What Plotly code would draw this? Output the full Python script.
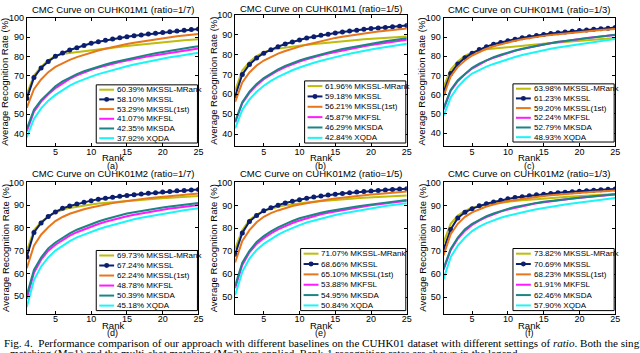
import plotly.graph_objects as go

W, H = 640, 353

ranks = list(range(1, 26))
series_names = ["MKSSL-MRank", "MKSSL", "MKSSL(1st)", "MKFSL", "MKSDA", "XQDA"]
series_colors = ["#BDBD0A", "#0C1F6E", "#E8761A", "#FF1AFF", "#1B8585", "#1AF5F5"]

titles = ["CMC Curve on CUHK01M1 (ratio=1/7)", "CMC Curve on CUHK01M1 (ratio=1/5)",
          "CMC Curve on CUHK01M1 (ratio=1/3)", "CMC Curve on CUHK01M2 (ratio=1/7)",
          "CMC Curve on CUHK01M2 (ratio=1/5)", "CMC Curve on CUHK01M2 (ratio=1/3)"]
panel_labels = ["(a)", "(b)", "(c)", "(d)", "(e)", "(f)"]

rank1_a = ["60.39", "58.10", "53.29", "41.07", "42.35", "37.92"]
rank1_b = ["61.96", "59.18", "56.21", "45.87", "46.29", "42.84"]
rank1_c = ["63.98", "61.23", "59.20", "52.24", "52.79", "48.93"]
rank1_d = ["69.73", "67.24", "62.24", "48.78", "50.39", "45.18"]
rank1_e = ["71.07", "68.66", "65.10", "53.88", "54.95", "50.84"]
rank1_f = ["73.82", "70.69", "68.23", "61.91", "62.46", "57.90"]

# (a) CUHK01M1 ratio=1/7
a_mrank = [60.39, 70.0, 74.5, 78.0, 80.2, 81.3, 81.8, 82.3, 82.7, 83.1, 83.5, 84.0, 84.5, 85.0, 85.4, 85.8, 86.2, 86.6, 87.0, 87.3, 87.6, 88.0, 88.3, 88.6, 88.9]
a_mkssl = [58.10, 69.0, 74.0, 77.3, 80.0, 81.8, 83.3, 84.5, 85.7, 86.8, 87.6, 88.3, 89.0, 89.6, 90.2, 90.7, 91.1, 91.6, 92.0, 92.4, 92.8, 93.2, 93.5, 93.9, 94.2]
a_first = [53.29, 63.0, 68.0, 71.8, 74.5, 76.5, 78.2, 79.6, 80.8, 82.0, 83.0, 83.9, 84.8, 85.6, 86.4, 87.1, 87.7, 88.3, 88.9, 89.4, 89.9, 90.4, 90.8, 91.2, 91.6]
a_mkfsl = [41.07, 51.3, 56.5, 60.3, 63.5, 66.0, 68.3, 70.2, 71.8, 73.0, 74.2, 75.2, 76.1, 77.0, 77.8, 78.6, 79.3, 80.0, 80.6, 81.2, 81.8, 82.4, 83.0, 83.5, 84.1]
a_mksda = [42.35, 52.3, 57.3, 61.0, 64.5, 67.0, 69.0, 70.8, 72.3, 73.6, 74.8, 75.8, 76.8, 77.7, 78.6, 79.4, 80.2, 80.9, 81.6, 82.3, 82.9, 83.5, 84.1, 84.7, 85.3]
a_xqda = [37.92, 47.5, 53.0, 57.0, 60.0, 62.6, 64.8, 66.6, 68.2, 69.5, 70.8, 71.9, 73.0, 74.0, 74.9, 75.8, 76.6, 77.4, 78.1, 78.8, 79.5, 80.1, 80.7, 81.3, 81.9]

# (b) CUHK01M1 ratio=1/5
b_mrank = [61.96, 72.0, 76.3, 79.3, 81.2, 82.3, 83.0, 83.6, 84.1, 84.5, 84.9, 85.3, 85.7, 86.1, 86.5, 86.8, 87.1, 87.4, 87.7, 88.0, 88.3, 88.5, 88.7, 88.9, 89.1]
b_mkssl = [59.18, 70.0, 75.0, 78.3, 80.7, 82.5, 84.0, 85.3, 86.4, 87.4, 88.3, 89.0, 89.7, 90.3, 90.9, 91.4, 91.9, 92.3, 92.7, 93.1, 93.4, 93.7, 94.0, 94.3, 94.6]
b_first = [56.21, 66.0, 71.0, 74.5, 77.0, 78.9, 80.5, 81.8, 83.0, 84.0, 85.0, 85.9, 86.8, 87.6, 88.4, 89.0, 89.6, 90.1, 90.6, 91.1, 91.6, 92.0, 92.4, 92.8, 93.1]
b_mkfsl = [45.87, 55.5, 60.7, 64.6, 67.6, 70.0, 72.0, 73.7, 75.2, 76.5, 77.6, 78.7, 79.6, 80.5, 81.3, 82.1, 82.8, 83.5, 84.2, 84.8, 85.4, 86.0, 86.5, 87.0, 87.5]
b_mksda = [46.29, 56.0, 61.3, 65.2, 68.2, 70.6, 72.6, 74.3, 75.8, 77.0, 78.2, 79.2, 80.2, 81.1, 82.0, 82.8, 83.5, 84.2, 84.9, 85.5, 86.1, 86.7, 87.2, 87.7, 88.2]
b_xqda = [42.84, 52.2, 57.4, 61.3, 64.3, 66.8, 68.8, 70.6, 72.1, 73.5, 74.8, 75.9, 76.9, 77.9, 78.8, 79.6, 80.4, 81.2, 81.9, 82.6, 83.2, 83.8, 84.4, 85.0, 85.5]

# (c) CUHK01M1 ratio=1/3
c_mrank = [63.98, 73.0, 77.3, 80.2, 82.0, 83.0, 83.6, 84.0, 84.3, 84.6, 85.0, 85.4, 85.8, 86.2, 86.6, 86.9, 87.2, 87.5, 87.8, 88.1, 88.4, 88.7, 89.0, 89.3, 89.5]
c_mkssl = [61.23, 71.0, 76.0, 79.2, 81.6, 83.5, 85.0, 86.2, 87.2, 88.1, 88.9, 89.6, 90.2, 90.8, 91.3, 91.8, 92.2, 92.6, 93.0, 93.4, 93.7, 94.0, 94.3, 94.6, 94.9]
c_first = [59.20, 69.5, 74.5, 77.8, 80.4, 82.3, 83.9, 85.2, 86.3, 87.2, 88.1, 88.8, 89.5, 90.1, 90.6, 91.1, 91.5, 91.9, 92.3, 92.7, 93.0, 93.3, 93.6, 93.9, 94.2]
c_mkfsl = [52.24, 62.0, 67.0, 70.6, 73.6, 75.8, 77.7, 79.2, 80.5, 81.7, 82.8, 83.7, 84.6, 85.4, 86.1, 86.8, 87.4, 88.0, 88.5, 89.0, 89.5, 89.9, 90.3, 90.7, 91.0]
c_mksda = [52.79, 62.5, 67.5, 71.0, 74.0, 76.2, 78.0, 79.5, 80.8, 82.0, 83.0, 83.9, 84.7, 85.5, 86.2, 86.9, 87.5, 88.0, 88.5, 89.0, 89.5, 90.0, 90.4, 90.8, 91.2]
c_xqda = [48.93, 58.5, 64.0, 68.0, 71.0, 73.0, 74.6, 76.0, 77.3, 78.5, 79.6, 80.6, 81.5, 82.3, 83.1, 83.9, 84.6, 85.2, 85.8, 86.4, 87.0, 87.5, 88.0, 88.5, 89.0]

# (d) CUHK01M2 ratio=1/7
d_mrank = [69.73, 79.0, 82.6, 85.0, 86.8, 88.0, 88.8, 89.4, 89.9, 90.3, 90.7, 91.0, 91.3, 91.6, 91.9, 92.2, 92.4, 92.6, 92.8, 93.0, 93.2, 93.4, 93.6, 93.8, 94.0]
d_mkssl = [67.24, 78.0, 82.2, 85.0, 87.0, 88.6, 89.6, 90.5, 91.3, 92.0, 92.6, 93.1, 93.5, 93.9, 94.3, 94.6, 94.9, 95.2, 95.5, 95.8, 96.0, 96.3, 96.5, 96.7, 96.9]
d_first = [62.24, 72.2, 77.0, 80.3, 83.0, 84.8, 86.2, 87.3, 88.2, 89.0, 89.7, 90.3, 90.9, 91.4, 91.9, 92.3, 92.7, 93.1, 93.4, 93.7, 94.0, 94.3, 94.6, 94.9, 95.1]
d_mkfsl = [48.78, 60.2, 66.0, 70.0, 72.6, 74.8, 76.6, 78.1, 79.4, 80.6, 81.7, 82.7, 83.6, 84.4, 85.1, 85.8, 86.4, 87.0, 87.5, 88.0, 88.5, 88.9, 89.3, 89.7, 90.1]
d_mksda = [50.39, 61.5, 67.0, 71.0, 73.6, 75.8, 77.6, 79.2, 80.5, 81.7, 82.8, 83.8, 84.7, 85.5, 86.3, 86.9, 87.5, 88.0, 88.5, 89.0, 89.4, 89.8, 90.2, 90.6, 91.0]
d_xqda = [45.18, 57.0, 63.0, 67.0, 70.0, 72.3, 74.2, 75.8, 77.1, 78.3, 79.4, 80.4, 81.3, 82.2, 83.0, 83.8, 84.5, 85.1, 85.7, 86.3, 86.8, 87.3, 87.8, 88.2, 88.6]

# (e) CUHK01M2 ratio=1/5
e_mrank = [71.07, 79.2, 83.6, 86.0, 87.6, 88.6, 89.4, 90.0, 90.5, 91.0, 91.3, 91.6, 91.9, 92.2, 92.5, 92.7, 92.9, 93.1, 93.3, 93.5, 93.7, 93.8, 94.0, 94.1, 94.3]
e_mkssl = [68.66, 78.0, 83.0, 85.6, 87.6, 89.0, 90.1, 91.0, 91.8, 92.5, 93.1, 93.6, 94.1, 94.5, 94.9, 95.2, 95.5, 95.8, 96.0, 96.3, 96.5, 96.7, 96.9, 97.1, 97.3]
e_first = [65.10, 74.5, 79.2, 82.6, 85.0, 86.6, 87.8, 88.8, 89.7, 90.4, 91.0, 91.6, 92.1, 92.6, 93.0, 93.4, 93.8, 94.1, 94.4, 94.7, 95.0, 95.3, 95.5, 95.8, 96.0]
e_mkfsl = [53.88, 64.0, 69.5, 73.2, 75.7, 77.8, 79.5, 81.0, 82.3, 83.4, 84.4, 85.3, 86.1, 86.8, 87.4, 88.0, 88.5, 89.0, 89.5, 90.0, 90.4, 90.8, 91.2, 91.6, 92.0]
e_mksda = [54.95, 65.0, 70.2, 74.0, 76.6, 78.7, 80.4, 81.9, 83.2, 84.4, 85.3, 86.1, 86.8, 87.4, 88.0, 88.5, 89.0, 89.5, 90.0, 90.4, 90.8, 91.2, 91.6, 92.0, 92.4]
e_xqda = [50.84, 61.0, 66.8, 70.5, 73.2, 75.4, 77.2, 78.8, 80.2, 81.4, 82.5, 83.4, 84.3, 85.1, 85.8, 86.5, 87.1, 87.7, 88.2, 88.7, 89.2, 89.7, 90.1, 90.5, 90.9]

# (f) CUHK01M2 ratio=1/3
f_mrank = [73.82, 82.0, 85.6, 87.6, 89.0, 89.8, 90.4, 90.9, 91.3, 91.6, 91.9, 92.2, 92.5, 92.8, 93.0, 93.3, 93.5, 93.7, 93.9, 94.1, 94.3, 94.5, 94.7, 94.8, 95.0]
f_mkssl = [70.69, 79.5, 84.5, 87.0, 88.6, 89.8, 90.7, 91.5, 92.2, 92.9, 93.4, 93.8, 94.2, 94.6, 94.9, 95.2, 95.5, 95.7, 96.0, 96.2, 96.4, 96.6, 96.8, 97.0, 97.2]
f_first = [68.23, 77.5, 82.0, 85.0, 87.0, 88.4, 89.5, 90.4, 91.2, 91.9, 92.4, 92.9, 93.3, 93.7, 94.1, 94.4, 94.7, 95.0, 95.3, 95.5, 95.7, 95.9, 96.1, 96.3, 96.5]
f_mkfsl = [61.91, 70.5, 75.5, 79.0, 81.5, 83.4, 84.9, 86.2, 87.3, 88.2, 89.0, 89.7, 90.3, 90.9, 91.4, 91.8, 92.2, 92.6, 93.0, 93.3, 93.6, 93.9, 94.2, 94.5, 94.8]
f_mksda = [62.46, 71.0, 76.0, 79.6, 82.0, 83.8, 85.3, 86.5, 87.6, 88.5, 89.3, 90.0, 90.6, 91.1, 91.6, 92.0, 92.4, 92.8, 93.1, 93.4, 93.7, 94.0, 94.3, 94.6, 94.9]
f_xqda = [57.90, 67.5, 72.5, 76.0, 78.8, 80.8, 82.3, 83.6, 84.6, 85.5, 86.3, 87.0, 87.7, 88.3, 88.9, 89.4, 89.9, 90.4, 90.8, 91.2, 91.6, 92.0, 92.4, 92.8, 93.2]

panels = [
    ([a_mrank, a_mkssl, a_first, a_mkfsl, a_mksda, a_xqda], rank1_a),
    ([b_mrank, b_mkssl, b_first, b_mkfsl, b_mksda, b_xqda], rank1_b),
    ([c_mrank, c_mkssl, c_first, c_mkfsl, c_mksda, c_xqda], rank1_c),
    ([d_mrank, d_mkssl, d_first, d_mkfsl, d_mksda, d_xqda], rank1_d),
    ([e_mrank, e_mkssl, e_first, e_mkfsl, e_mksda, e_xqda], rank1_e),
    ([f_mrank, f_mkssl, f_first, f_mkfsl, f_mksda, f_xqda], rank1_f),
]

# layout in pixels: (left, right, top, bottom)
axis_boxes = [(27, 200, 13, 143), (237, 410, 10, 143), (447, 620, 13, 143),
              (27, 200, 180, 313), (237, 410, 180, 313), (447, 620, 180, 313)]
legend_boxes = [(97, 199, 81, 140), (307, 409, 77, 140), (517, 619, 80, 139),
                (97, 199, 249, 310), (303, 409, 247, 310), (517, 619, 247, 310)]
y_ranges = [[33.5, 100], [34, 100], [33.3, 100], [42.3, 100], [42.8, 100], [42.9, 100]]
y_ticks = [[40, 50, 60, 70, 80, 90, 100]] * 3 + [[50, 60, 70, 80, 90, 100]] * 3
x_ticks = [5, 10, 15, 20, 25]


def px(x):
    return x / W


def py(y):
    return 1 - y / H


FONT = "Liberation Sans, Arial, sans-serif"
fig = go.Figure()
layout = dict(width=W, height=H, margin=dict(l=0, r=0, t=0, b=0),
              paper_bgcolor="white", plot_bgcolor="white", showlegend=False,
              font=dict(family=FONT, size=9, color="black"))
annotations = []
shapes = []

for i, (series, r1) in enumerate(panels):
    k = "" if i == 0 else str(i + 1)
    xa, ya = "x" + k, "y" + k
    l, r, t, b = axis_boxes[i]
    common = dict(showline=True, mirror="ticks", linecolor="black", linewidth=1,
                  ticks="inside", ticklen=3, tickcolor="black", showgrid=False,
                  zeroline=False, tickfont=dict(size=9, family=FONT))
    layout["xaxis" + k] = dict(domain=[px(l), px(r)], anchor=ya, range=[1, 25],
                               tickvals=x_ticks, ticklabelstandoff=-3, **common)
    layout["yaxis" + k] = dict(domain=[py(b), py(t)], anchor=xa, range=y_ranges[i],
                               tickvals=y_ticks[i], **common)
    for j, vals in enumerate(series):
        if j == 1:
            fig.add_trace(go.Scatter(x=ranks, y=vals, mode="lines+markers", xaxis=xa, yaxis=ya,
                                     line=dict(color=series_colors[j], width=2),
                                     marker=dict(size=5, color=series_colors[j])))
        else:
            fig.add_trace(go.Scatter(x=ranks, y=vals, mode="lines", xaxis=xa, yaxis=ya,
                                     line=dict(color=series_colors[j], width=2)))
    cx = (l + r) / 2
    ttl_y = 5 if i < 3 else 171
    if i == 1:
        ttl_y = 4
    annotations.append(dict(text=titles[i], x=px(cx), y=py(ttl_y), xref="paper", yref="paper",
                            showarrow=False, xanchor="center", yanchor="middle",
                            font=dict(size=9.5, family=FONT)))
    annotations.append(dict(text="Rank", x=px(cx), y=py(b + 12), xref="paper", yref="paper",
                            showarrow=False, xanchor="center", yanchor="middle",
                            font=dict(size=9.5, family=FONT)))
    annotations.append(dict(text=panel_labels[i], x=px(cx), y=py(b + 20), xref="paper", yref="paper",
                            showarrow=False, xanchor="center", yanchor="middle",
                            font=dict(size=9, family=FONT)))
    annotations.append(dict(text="Average Recognition Rate (%)", x=px(l - 22), y=py((t + b) / 2),
                            xref="paper", yref="paper", showarrow=False, textangle=-90,
                            xanchor="center", yanchor="middle", font=dict(size=9.5, family=FONT)))
    # legend box
    ll, lr, lt, lb = legend_boxes[i]
    shapes.append(dict(type="rect", xref="paper", yref="paper", x0=px(ll), x1=px(lr),
                       y0=py(lb), y1=py(lt), line=dict(color="black", width=1),
                       fillcolor="white", layer="above"))
    step = (lb - lt) / 6
    for j in range(6):
        yy = lt + step * (j + 0.5)
        shapes.append(dict(type="line", xref="paper", yref="paper", x0=px(ll + 3), x1=px(ll + 18),
                           y0=py(yy), y1=py(yy), line=dict(color=series_colors[j], width=2),
                           layer="above"))
        if j == 1:
            cxm = ll + 10.5
            shapes.append(dict(type="circle", xref="paper", yref="paper", x0=px(cxm - 2.5),
                               x1=px(cxm + 2.5), y0=py(yy + 2.5), y1=py(yy - 2.5),
                               fillcolor=series_colors[j], line=dict(color=series_colors[j], width=0),
                               layer="above"))
        annotations.append(dict(text=f"{r1[j]}% {series_names[j]}", x=px(ll + 19), y=py(yy),
                                xref="paper", yref="paper", showarrow=False, xanchor="left",
                                yanchor="middle", font=dict(size=8, family=FONT)))

SERIF = "Liberation Serif, Times New Roman, serif"
annotations.append(dict(text="Fig. 4.  Performance comparison of our approach with different baselines on the CUHK01 dataset with different settings of <i>ratio</i>. Both the single",
                        x=px(2), y=py(343), xref="paper", yref="paper", showarrow=False,
                        xanchor="left", yanchor="middle", font=dict(size=11.1, family=SERIF)))
annotations.append(dict(text="matching (M=1) and the multi-shot matching (M=2) are applied. Rank-1 recognition rates are shown in the legend.",
                        x=px(8), y=py(354), xref="paper", yref="paper", showarrow=False,
                        xanchor="left", yanchor="middle", font=dict(size=11.1, family=SERIF)))

layout["annotations"] = annotations
layout["shapes"] = shapes
fig.update_layout(**layout)
fig.write_html("out.html", config={"displayModeBar": False},
               post_script="document.body.style.margin='0px';document.body.style.overflow='hidden';")
